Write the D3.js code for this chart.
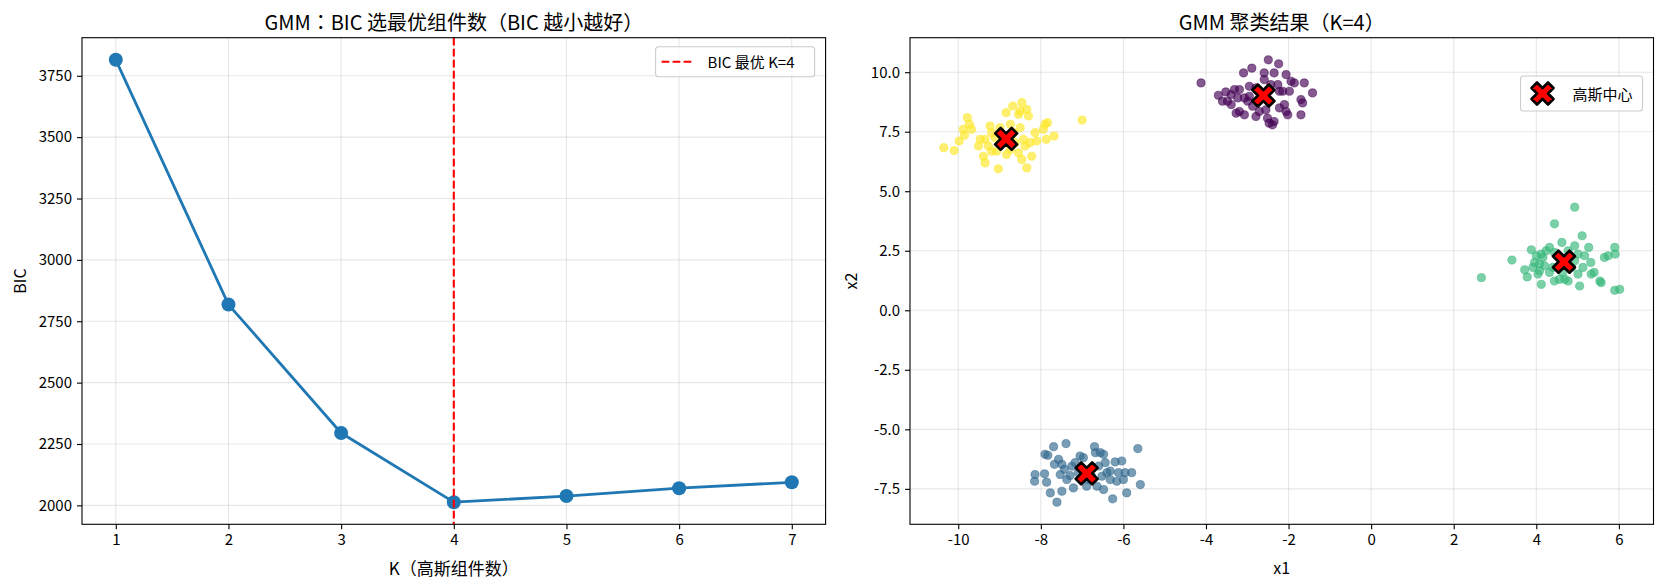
<!DOCTYPE html>
<html>
<head>
<meta charset="utf-8">
<script src="https://cdn.jsdelivr.net/npm/d3@7"></script>
<style>
  body { margin: 0; background: #fff; }
  text { font-family: "Noto Sans CJK TC", "Noto Sans CJK SC", "Noto Sans", sans-serif; fill: #000; }
</style>
</head>
<body>
<div id="chart"></div>
<script>
// ---- left panel: BIC per K
const kValues = [1, 2, 3, 4, 5, 6, 7];
const bicValues = [3815, 2818, 2295, 2013, 2038, 2070, 2094];
const bestK = 4;
const bicTicks = [2000, 2250, 2500, 2750, 3000, 3250, 3500, 3750];

// ---- right panel: points per GMM label (viridis order)
const cluster0 = [[-4.12,9.55],[-3.70,9.03],[-3.52,9.17],[-3.48,8.78],[-3.60,8.78],[-3.39,8.64],[-3.31,9.27],[-3.19,9.27],[-3.23,8.92],[-3.09,9.97],
  [-2.89,10.17],[-2.95,9.41],[-2.99,8.78],[-3.07,8.92],[-3.27,8.28],[-3.19,8.35],[-3.07,8.21],[-2.79,8.14],[-2.59,9.97],[-2.35,9.97],
  [-2.59,9.69],[-2.43,9.48],[-2.26,9.48],[-2.55,8.42],[-2.51,8.07],[-2.47,7.86],[-2.35,7.93],[-2.39,7.79],[-2.22,9.20],[-2.14,9.20],
  [-2.06,9.90],[-1.94,9.62],[-1.86,9.55],[-1.98,9.20],[-2.10,8.64],[-2.06,8.35],[-2.02,8.21],[-1.70,8.85],[-1.66,8.71],[-1.62,9.55],
  [-1.42,9.13],[-1.70,8.21],[-2.49,10.52],[-2.87,8.57],[-2.79,9.34],[-2.95,8.99],[-2.24,10.35],[-2.71,8.35],[-3.39,9.06],[-2.22,8.50]];
const cluster1 = [[-8.15,-7.18],[-8.14,-6.90],[-7.91,-6.87],[-7.86,-7.22],[-7.90,-6.05],[-7.83,-6.09],[-7.69,-5.73],[-7.39,-5.60],[-7.67,-6.47],[-7.53,-6.90],
  [-7.49,-6.47],[-7.43,-6.68],[-7.37,-7.11],[-7.77,-7.67],[-7.49,-7.60],[-7.61,-8.06],[-7.21,-7.46],[-7.25,-6.55],[-7.17,-6.40],[-7.05,-6.12],
  [-6.97,-6.19],[-6.89,-7.39],[-6.85,-7.11],[-6.70,-5.73],[-6.68,-5.98],[-6.56,-5.98],[-6.48,-6.05],[-6.60,-6.54],[-6.44,-6.40],[-6.40,-6.82],
  [-6.32,-7.11],[-6.48,-7.53],[-6.64,-7.39],[-6.26,-7.92],[-6.20,-6.37],[-6.04,-6.33],[-6.12,-6.82],[-5.96,-6.82],[-6.16,-7.18],[-6.00,-7.11],
  [-5.92,-7.67],[-5.65,-5.81],[-5.59,-7.32],[-5.80,-6.82],[-7.29,-6.94],[-6.77,-6.97],[-7.09,-6.82],[-6.32,-6.75],[-6.52,-6.97],[-7.57,-6.26]];
const cluster2 = [[2.67,1.37],[3.41,2.11],[3.72,1.70],[3.78,1.40],[3.88,2.54],[3.92,1.80],[4.00,2.29],[4.08,1.94],[4.12,1.09],[4.04,1.52],
  [4.16,2.22],[4.24,2.50],[4.32,2.64],[4.44,3.63],[4.62,2.85],[4.93,4.33],[5.11,3.13],[4.93,2.71],[5.01,2.36],[5.17,2.29],
  [5.27,2.64],[5.32,2.01],[5.01,1.52],[5.05,1.02],[5.33,1.52],[5.40,1.59],[5.54,1.23],[5.57,1.16],[5.65,2.22],[5.74,2.29],
  [5.90,2.64],[5.91,2.36],[5.90,0.84],[6.02,0.88],[4.44,1.23],[4.56,1.30],[4.69,1.30],[4.77,1.23],[4.32,1.59],[4.40,1.80],
  [4.20,1.87],[4.64,1.59],[4.85,1.80],[4.93,2.08],[3.96,2.01],[4.12,2.36],[5.13,1.80],[4.08,1.66],[4.77,2.50],[4.44,2.43]];
const cluster3 = [[-10.35,6.83],[-10.10,6.71],[-9.98,7.11],[-9.85,7.35],[-9.78,8.09],[-9.73,7.81],[-9.68,7.60],[-9.88,7.60],[-9.47,7.18],[-9.39,6.47],
  [-9.35,6.19],[-9.23,7.74],[-9.19,7.46],[-9.27,6.90],[-9.03,5.94],[-9.07,6.68],[-8.84,8.30],[-8.74,7.81],[-8.68,8.58],[-8.54,8.23],
  [-8.46,8.72],[-8.50,8.37],[-8.34,8.44],[-8.30,8.16],[-8.50,7.67],[-8.42,7.18],[-8.38,6.90],[-8.54,6.61],[-8.46,6.33],[-8.34,5.98],
  [-8.26,7.04],[-8.14,7.46],[-8.10,7.11],[-7.90,7.81],[-7.84,7.88],[-7.94,7.60],[-7.87,7.18],[-7.68,7.32],[-7.00,7.99],[-8.91,7.04],
  [-8.74,6.75],[-9.11,7.25],[-8.99,7.67],[-8.83,6.54],[-9.19,6.68],[-8.62,7.04],[-8.22,6.47],[-9.35,7.18],[-8.66,7.46],[-9.51,6.90]];
const centers = [[-2.61, 9.02], [-6.89, -6.85], [4.67, 2.04], [-8.84, 7.20]];
const clusterColors = ['#440154', '#31688e', '#35b779', '#fde725'];
const x1Ticks = [-10, -8, -6, -4, -2, 0, 2, 4, 6];
const x2Ticks = [-7.5, -5.0, -2.5, 0.0, 2.5, 5.0, 7.5, 10.0];

const W = 1665, H = 588;
const FS = 15;
const svg = d3.select('#chart').append('svg')
  .attr('width', W).attr('height', H)
  .style('background', '#fff');

const boxL = { left: 82, right: 825.6, top: 37.7, bottom: 524.3 };
const boxR = { left: 910, right: 1653.5, top: 37.7, bottom: 524.3 };

// matplotlib style 5% margins
function padded(ext) {
  const r = ext[1] - ext[0];
  return [ext[0] - r * 0.05, ext[1] + r * 0.05];
}

function drawAxes(g, box, sx, sy, xTicks, yTicks, xFmt, yFmt) {
  // grid
  const grid = g.append('g').attr('class', 'grid');
  grid.selectAll('line.gx').data(xTicks).enter().append('line')
    .attr('x1', d => sx(d)).attr('x2', d => sx(d))
    .attr('y1', box.top).attr('y2', box.bottom);
  grid.selectAll('line.gy').data(yTicks).enter().append('line')
    .attr('y1', d => sy(d)).attr('y2', d => sy(d))
    .attr('x1', box.left).attr('x2', box.right);
  grid.selectAll('line')
    .attr('stroke', '#b0b0b0').attr('stroke-opacity', 0.3).attr('stroke-width', 1.1);

  const xAxis = d3.axisBottom(sx).tickValues(xTicks).tickFormat(xFmt).tickSize(5).tickPadding(5);
  const yAxis = d3.axisLeft(sy).tickValues(yTicks).tickFormat(yFmt).tickSize(5).tickPadding(5);
  const gx = g.append('g').attr('transform', `translate(0,${box.bottom})`).call(xAxis);
  const gy = g.append('g').attr('transform', `translate(${box.left},0)`).call(yAxis);
  [gx, gy].forEach(a => {
    a.select('.domain').remove();
    a.selectAll('.tick line').attr('stroke', '#000').attr('stroke-width', 1.1);
    a.selectAll('.tick text').attr('font-size', FS).attr('fill', '#000');
    a.attr('font-family', null);
  });
}

function drawSpines(g, box) {
  g.append('rect')
    .attr('x', box.left).attr('y', box.top)
    .attr('width', box.right - box.left).attr('height', box.bottom - box.top)
    .attr('fill', 'none').attr('stroke', '#000').attr('stroke-width', 1.1);
}

// ================= left: BIC curve =================
const gL = svg.append('g');
const xL = d3.scaleLinear().domain(padded(d3.extent(kValues))).range([boxL.left, boxL.right]);
const yL = d3.scaleLinear().domain(padded(d3.extent(bicValues))).range([boxL.bottom, boxL.top]);
drawAxes(gL, boxL, xL, yL, kValues, bicTicks, d => d, d => d);

const bicData = kValues.map((k, i) => ({ k: k, bic: bicValues[i] }));
const bicLine = d3.line().x(d => xL(d.k)).y(d => yL(d.bic));
gL.append('path')
  .datum(bicData)
  .attr('d', bicLine)
  .attr('fill', 'none').attr('stroke', '#1f77b4').attr('stroke-width', 2.8)
  .attr('stroke-linejoin', 'round');
gL.selectAll('circle.pt').data(bicData).enter().append('circle')
  .attr('class', 'pt')
  .attr('cx', d => xL(d.k)).attr('cy', d => yL(d.bic))
  .attr('r', 7).attr('fill', '#1f77b4');

gL.append('line')
  .attr('x1', xL(bestK)).attr('x2', xL(bestK))
  .attr('y1', boxL.top).attr('y2', boxL.bottom)
  .attr('stroke', '#ff0000').attr('stroke-width', 2.1)
  .attr('stroke-dasharray', '7.7,3.3');
drawSpines(gL, boxL);

gL.append('text')
  .attr('x', (boxL.left + boxL.right) / 2).attr('y', 21)
  .attr('text-anchor', 'middle').attr('dominant-baseline', 'central')
  .attr('font-size', 20)
  .text('GMM：BIC 选最优组件数（BIC 越小越好）');
gL.append('text')
  .attr('x', (boxL.left + boxL.right) / 2).attr('y', 567)
  .attr('text-anchor', 'middle').attr('dominant-baseline', 'central')
  .attr('font-size', 17)
  .text('K（高斯组件数）');
gL.append('text')
  .attr('transform', `translate(19,${(boxL.top + boxL.bottom) / 2}) rotate(-90)`)
  .attr('text-anchor', 'middle').attr('dominant-baseline', 'central')
  .attr('font-size', 16)
  .text('BIC');

// legend left
const legL = gL.append('g').attr('transform', `translate(${boxL.right - 11 - 159},46.7)`);
legL.append('rect').attr('width', 159).attr('height', 30).attr('rx', 3)
  .attr('fill', '#fff').attr('fill-opacity', 0.8).attr('stroke', '#cccccc').attr('stroke-width', 1.1);
legL.append('line').attr('x1', 6).attr('x2', 39).attr('y1', 15).attr('y2', 15)
  .attr('stroke', '#ff0000').attr('stroke-width', 2.1).attr('stroke-dasharray', '7.7,3.3');
legL.append('text').attr('x', 52).attr('y', 15).attr('dominant-baseline', 'central')
  .attr('font-size', FS).text('BIC 最优 K=4');

// ================= right: scatter =================
const gR = svg.append('g');
const allPts = cluster0.concat(cluster1, cluster2, cluster3);
const xR = d3.scaleLinear().domain(padded(d3.extent(allPts, d => d[0]))).range([boxR.left, boxR.right]);
const yR = d3.scaleLinear().domain(padded(d3.extent(allPts, d => d[1]))).range([boxR.bottom, boxR.top]);
drawAxes(gR, boxR, xR, yR, x1Ticks, x2Ticks, d => String(d), d => d.toFixed(1));

const clusters = [cluster0, cluster1, cluster2, cluster3];
clusters.forEach((pts, ci) => {
  gR.append('g').selectAll('circle').data(pts).enter().append('circle')
    .attr('cx', d => xR(d[0])).attr('cy', d => yR(d[1]))
    .attr('r', 4.1)
    .attr('fill', clusterColors[ci]).attr('fill-opacity', 0.65)
    .attr('stroke', clusterColors[ci]).attr('stroke-opacity', 0.65).attr('stroke-width', 0.8);
});

// matplotlib filled 'X' marker outline
const xMarkerPts = [[-1,-2],[0,-1],[1,-2],[2,-1],[1,0],[2,1],[1,2],[0,1],[-1,2],[-2,1],[-1,0],[-2,-1]];
const X_SIZE = 22;
function xMarkerPath(cx, cy, size) {
  return d3.line()(xMarkerPts.map(p => [cx + p[0] / 4 * size, cy - p[1] / 4 * size])) + 'Z';
}
gR.append('g').selectAll('path').data(centers).enter().append('path')
  .attr('d', d => xMarkerPath(xR(d[0]), yR(d[1]), X_SIZE))
  .attr('fill', '#ff0000').attr('stroke', '#000').attr('stroke-width', 2.6)
  .attr('stroke-linejoin', 'round');
drawSpines(gR, boxR);

gR.append('text')
  .attr('x', (boxR.left + boxR.right) / 2).attr('y', 21)
  .attr('text-anchor', 'middle').attr('dominant-baseline', 'central')
  .attr('font-size', 20)
  .text('GMM 聚类结果（K=4）');
gR.append('text')
  .attr('x', (boxR.left + boxR.right) / 2).attr('y', 567)
  .attr('text-anchor', 'middle').attr('dominant-baseline', 'central')
  .attr('font-size', 16)
  .text('x1');
gR.append('text')
  .attr('transform', `translate(850,${(boxR.top + boxR.bottom) / 2}) rotate(-90)`)
  .attr('text-anchor', 'middle').attr('dominant-baseline', 'central')
  .attr('font-size', 16)
  .text('x2');

// legend right
const legR = gR.append('g').attr('transform', `translate(${boxR.right - 11 - 122},76)`);
legR.append('rect').attr('width', 122).attr('height', 35).attr('rx', 3)
  .attr('fill', '#fff').attr('fill-opacity', 0.8).attr('stroke', '#cccccc').attr('stroke-width', 1.1);
legR.append('path').attr('d', xMarkerPath(22, 17.5, X_SIZE))
  .attr('fill', '#ff0000').attr('stroke', '#000').attr('stroke-width', 2.6)
  .attr('stroke-linejoin', 'round');
legR.append('text').attr('x', 52).attr('y', 17.5).attr('dominant-baseline', 'central')
  .attr('font-size', FS).text('高斯中心');
</script>
</body>
</html>
